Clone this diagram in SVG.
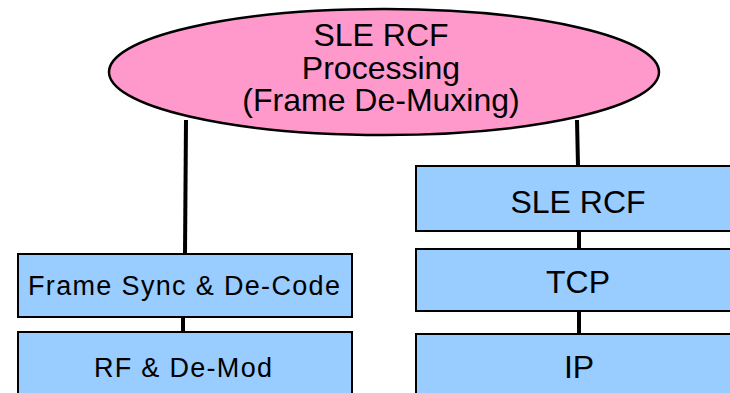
<svg xmlns="http://www.w3.org/2000/svg" width="730" height="393" viewBox="0 0 730 393">
  <style>
    .link { stroke: #000; stroke-width: 4; fill: none; }
    .box { fill: #99ccff; stroke: #000; stroke-width: 2; }
    .oval { fill: #ff99cc; stroke: #000; stroke-width: 2.5; }
    text { font-family: "Liberation Sans", Arial, Helvetica, sans-serif; fill: #000; text-anchor: middle; }
    .big { font-size: 32px; }
    .small { font-size: 27px; }
  </style>
  <rect width="730" height="393" fill="#fff"/>

  <!-- connectors -->
  <g id="connectors">
    <line class="link" x1="186" y1="120" x2="185" y2="254"/>
    <line class="link" x1="577" y1="120" x2="578" y2="166"/>
    <line class="link" x1="183" y1="317" x2="183" y2="332"/>
    <line class="link" x1="579" y1="231" x2="579" y2="249"/>
    <line class="link" x1="579" y1="311" x2="579" y2="334"/>
  </g>

  <g id="processing">
    <ellipse class="oval" cx="384" cy="72" rx="275" ry="63"/>
    <text class="big" x="381" y="46">SLE RCF</text>
    <text class="big" x="381" y="79">Processing</text>
    <text class="big" x="381" y="111">(Frame De-Muxing)</text>
  </g>

  <g id="frame-sync">
    <rect class="box" x="18" y="254" width="334" height="63"/>
    <text class="small" x="184" y="295" textLength="312" lengthAdjust="spacing">Frame Sync &amp; De-Code</text>
  </g>

  <g id="rf-demod">
    <rect class="box" x="18" y="332" width="334" height="70"/>
    <text class="small" x="183" y="377" textLength="178" lengthAdjust="spacing">RF &amp; De-Mod</text>
  </g>

  <g id="sle-rcf">
    <rect class="box" x="416" y="166" width="330" height="65"/>
    <text class="big" x="578" y="213">SLE RCF</text>
  </g>

  <g id="tcp">
    <rect class="box" x="416" y="249" width="330" height="62"/>
    <text class="big" x="578" y="293">TCP</text>
  </g>

  <g id="ip">
    <rect class="box" x="416" y="334" width="330" height="70"/>
    <text class="big" x="579" y="378">IP</text>
  </g>
</svg>
